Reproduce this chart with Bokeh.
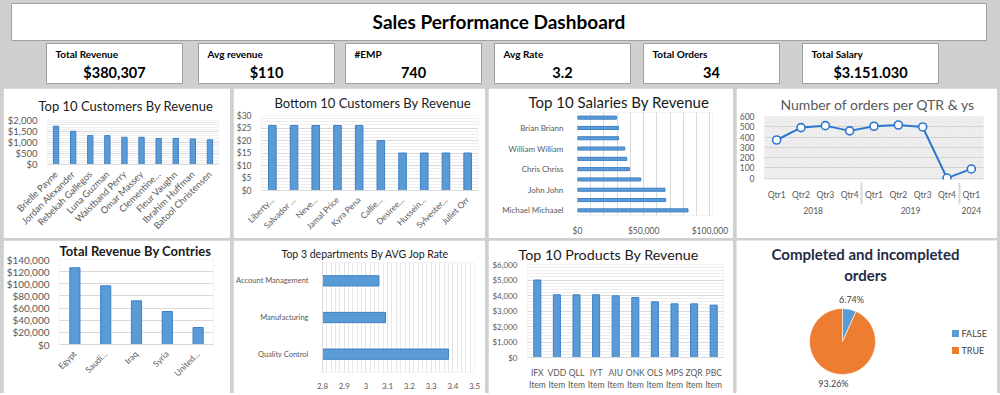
import math
from bokeh.plotting import figure
from bokeh.layouts import column, row
from bokeh.models import (Range1d, FactorRange, NumeralTickFormatter, SingleIntervalTicker,
                          FixedTicker, BoxAnnotation, ColumnDataSource, Spacer)
from bokeh.core.properties import value
from bokeh.embed import file_html
from bokeh.resources import INLINE

# ---------------- data ----------------
dashboard_title = "Sales Performance Dashboard"
kpi_labels = ["Total Revenue", "Avg revenue", "#EMP", "Avg Rate", "Total Orders", "Total Salary"]
kpi_values = ["$380,307", "$110", "740", "3.2", "34", "$3.151.030"]

top_customers = ["Brielle Payne", "Jordan Alexander", "Rebekah Gallegos", "Luna Guzman",
                 "Waistband Perry", "Omar Massey", "Clementine…", "Fleur Vaughn",
                 "Ibrahim Huffman", "Batool Christensen"]
top_customer_revenue = [1742, 1510, 1316, 1316, 1239, 1239, 1187, 1187, 1161, 1123]

bottom_customers = ["Liberty…", "Salvador …", "Neve…", "Jamal Price", "Kyra Pena",
                    "Callie…", "Desiree…", "Hussein…", "Sylvester…", "Juliet Orr"]
bottom_customer_revenue = [26, 26, 26, 26, 26, 20, 15, 15, 15, 15]

salary_names = ["Michael Michaael", "", "John John", "", "Chris Chriss", "",
                "William William", "", "Brian Briann", ""]
salary_values = [83500, 66600, 66100, 47800, 39200, 37200, 35700, 31100, 30900, 29400]

order_years = ["2018", "2018", "2018", "2018", "2019", "2019", "2019", "2019", "2024"]
order_quarters = ["Qtr1", "Qtr2", "Qtr3", "Qtr4", "Qtr1", "Qtr2", "Qtr3", "Qtr4", "Qtr1"]
order_counts = [371, 492, 511, 460, 505, 517, 498, 0, 89]

countries = ["Egypt", "Saudi…", "Iraq", "Syria", "United…"]
country_revenue = [126300, 96600, 71900, 54400, 28000]

departments = ["Quality Control", "Manufacturing", "Account Management"]
department_rate = [3.38, 3.09, 3.06]

products = ["IFX Item", "VDD Item", "QLL Item", "IYT Item", "AIU Item",
            "ONK Item", "OLS Item", "MPS Item", "ZQR Item", "PBC Item"]
product_revenue = [5000, 4045, 4045, 4045, 3980, 3870, 3590, 3460, 3460, 3375]

pie_title = "Completed and incompleted\norders"
pie_labels = ["FALSE", "TRUE"]
pie_values = [6.74, 93.26]

# ---------------- style / layout constants ----------------
FONT = "Lato"
BG = "#cfcfcf"
BOX_LINE = "#a0a0a0"
BAR = "#5b9bd5"
BAR_LINE = "#3f80c6"
GRID = "#d9d9d9"
MINOR = "#eeeeee"
TXT = "#595959"
TITLE_C = "#1a1a1a"
PIE_COLORS = ["#5b9bd5", "#ed7d31"]
KPI_BOX_LEFT = [46, 198, 345, 494, 643, 802]
KPI_BOX_W = 136
PANEL_W = [227, 252, 245, 261]
ROW1_H, ROW2_H, HDR_H, PAGE_W = 150, 153, 86, 1000


def make_fig(w, h, title, tsize, tbold=False, tcolor=TITLE_C, toffset=0, tstand=2, **kw):
    p = figure(width=w, height=h, toolbar_location=None, output_backend="svg", **kw)
    p.title.text = title
    p.title.align = "left"
    p.title.offset = toffset
    p.title.text_font = FONT
    p.title.text_font_size = tsize
    p.title.text_font_style = "bold" if tbold else "normal"
    p.title.text_color = tcolor
    p.title.standoff = tstand
    p.outline_line_color = None
    p.background_fill_color = "white"
    p.border_fill_color = "white"
    return p


def style_axes(p, size):
    for ax in p.axis:
        ax.major_label_text_font = FONT
        ax.major_label_text_font_size = size
        ax.major_label_text_color = TXT
        ax.axis_line_color = None
        ax.major_tick_line_color = None
        ax.minor_tick_line_color = None
        ax.major_label_standoff = 4


# ---------------- header ----------------
hdr = figure(width=PAGE_W, height=HDR_H, x_range=Range1d(0, PAGE_W), y_range=Range1d(HDR_H, 0),
             toolbar_location=None, output_backend="svg", min_border=0, title=None,
             x_axis_location=None, y_axis_location=None,
             background_fill_color=BG, border_fill_color=BG, outline_line_color=None)
hdr.grid.visible = False
hdr.quad(left=[11], right=[986], top=[3], bottom=[40], fill_color="white", line_color=BOX_LINE)
hdr.text(x=[498.5], y=[20.5], text=[dashboard_title], text_align="center", text_baseline="middle",
         text_font=value(FONT), text_font_style="bold", text_font_size="19px", text_color="black")
n = len(kpi_labels)
hdr.quad(left=KPI_BOX_LEFT, right=[l + KPI_BOX_W for l in KPI_BOX_LEFT], top=[43] * n, bottom=[83] * n,
         fill_color="white", line_color=BOX_LINE)
hdr.text(x=[l + 9 for l in KPI_BOX_LEFT], y=[53] * n, text=kpi_labels, text_align="left",
         text_baseline="middle", text_font=value(FONT), text_font_style="bold",
         text_font_size="10px", text_color="black")
hdr.text(x=[l + KPI_BOX_W / 2 for l in KPI_BOX_LEFT], y=[72] * n, text=kpi_values, text_align="center",
         text_baseline="middle", text_font=value(FONT), text_font_style="bold",
         text_font_size="14.5px", text_color="black")

# ---------------- chart 1 ----------------
p1 = make_fig(PANEL_W[0], ROW1_H, "Top 10 Customers By  Revenue", "13px", toffset=-9, tstand=14,
              x_range=FactorRange(*top_customers), y_range=Range1d(0, 2000),
              min_border_left=44, min_border_right=12, min_border_top=31, min_border_bottom=67)
p1.vbar(x=top_customers, top=top_customer_revenue, width=0.31, fill_color=BAR, line_color=BAR_LINE)
style_axes(p1, "9.5px")
p1.yaxis.ticker = SingleIntervalTicker(interval=500, num_minor_ticks=5)
p1.yaxis.formatter = NumeralTickFormatter(format="$0,0")
p1.xaxis.major_label_orientation = math.pi / 4
p1.xaxis.major_label_text_font_size = "9.3px"
p1.xaxis.axis_line_color = GRID
p1.xaxis.major_label_standoff = 2
p1.xgrid.grid_line_color = None
p1.ygrid.grid_line_color = GRID
p1.ygrid.minor_grid_line_color = MINOR

# ---------------- chart 2 ----------------
p2 = make_fig(PANEL_W[1], ROW1_H, "Bottom 10 Customers By Revenue", "13px", toffset=13, tstand=9,
              x_range=FactorRange(*bottom_customers), y_range=Range1d(0, 30),
              min_border_left=27, min_border_right=7, min_border_top=27, min_border_bottom=46)
p2.vbar(x=bottom_customers, top=bottom_customer_revenue, width=0.35, fill_color=BAR, line_color=BAR_LINE)
style_axes(p2, "8.5px")
p2.yaxis.ticker = SingleIntervalTicker(interval=5, num_minor_ticks=4)
p2.yaxis.formatter = NumeralTickFormatter(format="$0,0")
p2.xaxis.major_label_orientation = math.pi / 4
p2.xaxis.axis_line_color = GRID
p2.xaxis.major_label_standoff = 2
p2.xgrid.grid_line_color = None
p2.ygrid.grid_line_color = GRID
p2.ygrid.minor_grid_line_color = MINOR

# ---------------- chart 3 ----------------
sal_pos = list(range(1, len(salary_names) + 1))
p3 = make_fig(PANEL_W[2], ROW1_H, "Top 10 Salaries By Revenue", "15px", toffset=-49, tstand=4,
              x_range=Range1d(0, 102000), y_range=Range1d(0.5, len(salary_names) + 0.5),
              min_border_left=89, min_border_right=21, min_border_top=24, min_border_bottom=23)
p3.hbar(y=sal_pos, left=0, right=salary_values, height=0.3, fill_color=BAR, line_color=BAR_LINE)
style_axes(p3, "8px")
p3.xaxis.ticker = SingleIntervalTicker(interval=50000, num_minor_ticks=5)
p3.xaxis.formatter = NumeralTickFormatter(format="$0,0")
p3.xaxis.major_label_text_font_size = "8.5px"
p3.yaxis.ticker = FixedTicker(ticks=[pp for pp, nm in zip(sal_pos, salary_names) if nm])
p3.yaxis.major_label_overrides = {pp: nm for pp, nm in zip(sal_pos, salary_names) if nm}
p3.yaxis.major_label_standoff = 8
p3.ygrid.grid_line_color = None
p3.xgrid.grid_line_color = GRID
p3.xgrid.minor_grid_line_color = GRID

# ---------------- chart 4 ----------------
factors = list(zip(order_years, order_quarters))
p4 = make_fig(PANEL_W[3], ROW1_H, "Number of orders per QTR & ys", "14px", tcolor=TXT, toffset=16, tstand=7,
              x_range=FactorRange(*factors, group_padding=0, factor_padding=0),
              y_range=Range1d(-14, 600),
              min_border_left=28, min_border_right=14, min_border_top=28, min_border_bottom=59)
p4.add_layout(BoxAnnotation(bottom=0, fill_alpha=0, line_color=None, hatch_pattern="left_diagonal_line",
                            hatch_color="#c4c4c4", hatch_alpha=1.0, hatch_scale=3, hatch_weight=0.5,
                            level="underlay"))
p4.line(x=factors, y=order_counts, line_color="#2e75d0", line_width=2)
p4.scatter(x=factors, y=order_counts, size=8, fill_color="white", line_color="#2e75d0", line_width=1.6)
style_axes(p4, "8.5px")
p4.yaxis.ticker = SingleIntervalTicker(interval=100)
p4.xaxis.major_label_standoff = 4
p4.xaxis.group_text_font = FONT
p4.xaxis.group_text_font_size = "8.5px"
p4.xaxis.group_text_font_style = "normal"
p4.xaxis.group_text_color = TXT
p4.xaxis.separator_line_color = GRID
p4.xaxis.major_label_orientation = "horizontal"
p4.xgrid.grid_line_color = None
p4.ygrid.grid_line_color = GRID

# ---------------- chart 5 ----------------
p5 = make_fig(PANEL_W[0], ROW2_H, "Total Revenue By Contries", "13px", tbold=True, toffset=0, tstand=1,
              x_range=FactorRange(*countries), y_range=Range1d(0, 140000),
              min_border_left=55, min_border_right=17, min_border_top=19, min_border_bottom=49)
p5.vbar(x=countries, top=country_revenue, width=0.33, fill_color=BAR, line_color=BAR_LINE)
style_axes(p5, "10px")
p5.yaxis.ticker = SingleIntervalTicker(interval=20000)
p5.yaxis.formatter = NumeralTickFormatter(format="$0,0")
p5.xaxis.major_label_orientation = math.pi / 4
p5.xaxis.major_label_text_font_size = "8.5px"
p5.xaxis.axis_line_color = GRID
p5.xaxis.major_label_standoff = 2
p5.xgrid.grid_line_color = None
p5.ygrid.grid_line_color = GRID

# ---------------- chart 6 ----------------
RATE_MIN, RATE_MAX = 2.8, 3.5
p6 = make_fig(PANEL_W[1], ROW2_H, "Top 3 departments By AVG Jop Rate", "10.5px", toffset=-41, tstand=6,
              x_range=Range1d(RATE_MIN, RATE_MAX), y_range=FactorRange(*departments),
              min_border_left=89, min_border_right=11, min_border_top=22, min_border_bottom=21)
p6.hbar(y=departments, left=RATE_MIN, right=department_rate, height=0.28, fill_color=BAR, line_color=BAR_LINE)
style_axes(p6, "7.5px")
p6.xaxis.ticker = SingleIntervalTicker(interval=0.1, num_minor_ticks=5)
p6.xaxis.formatter = NumeralTickFormatter(format="0.[0]")
p6.xaxis.major_label_text_font_size = "8px"
p6.yaxis.axis_line_color = GRID
p6.yaxis.major_label_standoff = 8
p6.ygrid.grid_line_color = None
p6.xgrid.grid_line_color = "#e2e2e2"
p6.xgrid.minor_grid_line_color = "#e8e8e8"

# ---------------- chart 7 ----------------
prod_labels = [pr.replace(" ", "\n") for pr in products]
p7 = make_fig(PANEL_W[2], ROW2_H, "Top 10 Products By Revenue", "14.3px", toffset=-9, tstand=3,
              x_range=FactorRange(*prod_labels), y_range=Range1d(0, 6000),
              min_border_left=39, min_border_right=10, min_border_top=24, min_border_bottom=36)
p7.vbar(x=prod_labels, top=product_revenue, width=0.36, fill_color=BAR, line_color=BAR_LINE)
style_axes(p7, "8px")
p7.xaxis.major_label_text_font_size = "8.5px"
p7.yaxis.ticker = SingleIntervalTicker(interval=1000, num_minor_ticks=5)
p7.yaxis.formatter = NumeralTickFormatter(format="$0,0")
p7.xaxis.axis_line_color = GRID
p7.xgrid.grid_line_color = None
p7.ygrid.grid_line_color = GRID
p7.ygrid.minor_grid_line_color = MINOR

# ---------------- chart 8 (pie) ----------------
PW, PH = PANEL_W[3], ROW2_H
p8 = figure(width=PW, height=PH, x_range=Range1d(0, PW), y_range=Range1d(0, PH),
            toolbar_location=None, output_backend="svg", min_border=0, title=None,
            x_axis_location=None, y_axis_location=None, outline_line_color=None,
            background_fill_color="white", border_fill_color="white")
p8.grid.visible = False
PCX, PCY, PR = 106, 52, 33
total = sum(pie_values)
starts, ends, mids = [], [], []
cum = 0.0
for v in pie_values:
    a_end = 90 - cum / total * 360
    cum += v
    a_start = 90 - cum / total * 360
    starts.append(math.radians(a_start))
    ends.append(math.radians(a_end))
    mids.append(math.radians((a_start + a_end) / 2))
src = ColumnDataSource(dict(start=starts, end=ends, label=pie_labels, color=PIE_COLORS))
p8.wedge(x=PCX, y=PCY, radius=PR, start_angle="start", end_angle="end", direction="anticlock",
         fill_color="color", line_color="white", line_width=0.6, source=src)
p8.text(x=[PCX + (PR + 10) * math.cos(m) for m in mids],
        y=[PCY + (PR + 10) * math.sin(m) for m in mids],
        text=[f"{v:.2f}%" for v in pie_values], text_align="center", text_baseline="middle",
        text_font=value(FONT), text_font_size="9px", text_color="#404040")
title_lines = pie_title.split("\n")
p8.text(x=[129] * len(title_lines), y=[PH - 13 - 21 * i for i in range(len(title_lines))],
        text=title_lines, text_align="center", text_baseline="middle",
        text_font=value(FONT), text_font_style="bold", text_font_size="15px", text_color="#1f2b46")
LEG_X, LEG_Y0, LEG_DY = 219, 60, 17
leg_y = [LEG_Y0 - LEG_DY * i for i in range(len(pie_labels))]
p8.scatter(x=[LEG_X] * len(pie_labels), y=leg_y, marker="square", size=7,
           fill_color=PIE_COLORS, line_color=None)
p8.text(x=[LEG_X + 6] * len(pie_labels), y=leg_y, text=pie_labels, text_align="left",
        text_baseline="middle", text_font=value(FONT), text_font_size="9px", text_color="#404040")

# ---------------- layout ----------------
# each chart is wrapped in its own column so that the row does not align their frames
def solo(p):
    return column(p, spacing=0)


layout = column(hdr,
                row(Spacer(width=0, height=ROW1_H), solo(p1), solo(p2), solo(p3), solo(p4), spacing=3),
                row(Spacer(width=0, height=ROW2_H), solo(p5), solo(p6), solo(p7), solo(p8), spacing=3),
                spacing=2, styles={"background-color": BG})

with open("out.html", "w") as f:
    f.write(file_html(layout, INLINE))
